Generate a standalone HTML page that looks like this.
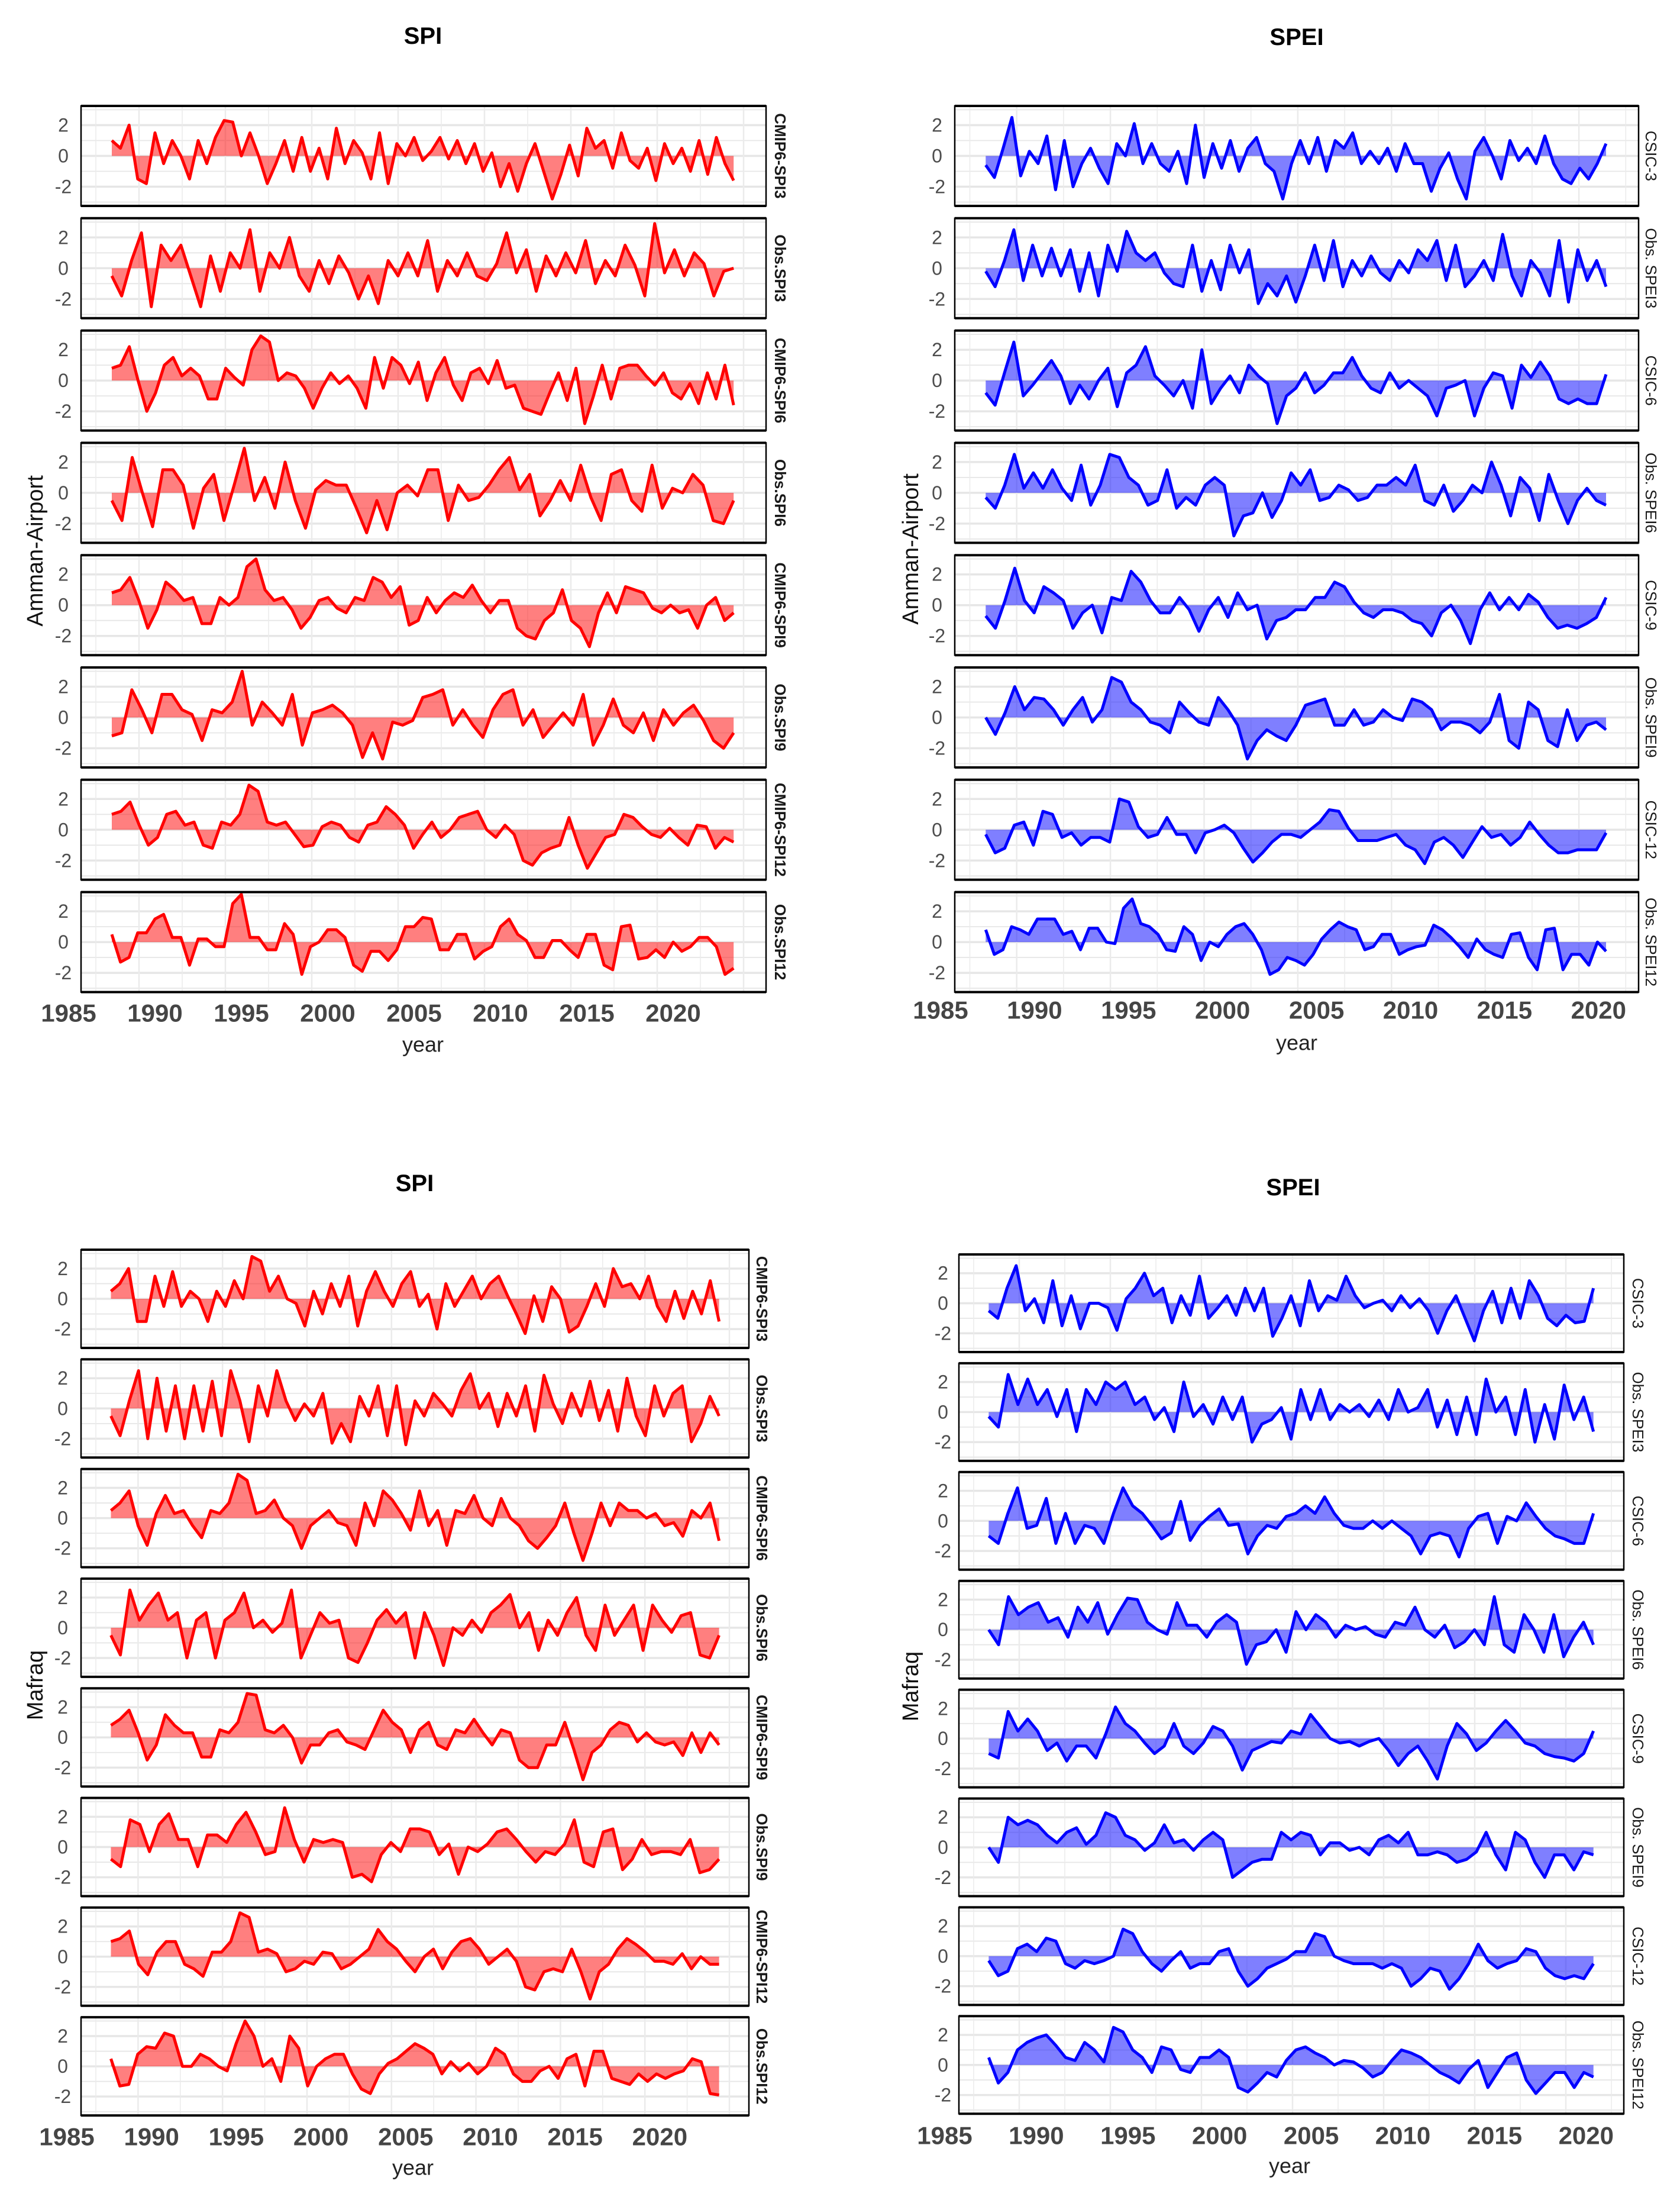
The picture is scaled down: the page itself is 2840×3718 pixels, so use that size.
<!DOCTYPE html>
<html><head><meta charset="utf-8">
<style>
html,body{margin:0;padding:0;background:#fff;}
svg{display:block;}
text{font-family:"Liberation Sans",Arial,sans-serif;}
</style></head>
<body>
<svg id="fig" width="2840" height="3718" viewBox="0 0 2840 3718" xmlns="http://www.w3.org/2000/svg">
<rect x="0" y="0" width="2840" height="3718" fill="#fff"/>
</svg>
<script>
// ===== Data: Amman-Airport SPI (1987.5 - 2023.5) =====
const ammanCmipSpi3 = [1,0.5,2,-1.5,-1.8,1.5,-0.5,1,0,-1.5,1,-0.5,1.2,2.3,2.2,0,1.5,0,-1.8,-0.5,1,-1,1.2,-1,0.5,-1.5,1.8,-0.5,1,0.2,-1.5,1.5,-1.8,0.8,0,1.2,-0.3,0.3,1.2,-0.2,1,-0.5,0.8,-1,0.2,-2,-0.5,-2.3,-0.5,0.8,-1,-2.8,-1.2,0.7,-1.3,1.8,0.5,1,-0.8,1.5,-0.3,-0.8,0.5,-1.6,0.8,-0.5,0.5,-1,1,-1.2,1.2,-0.5,-1.6];
const ammanObsSpi3 = [-0.5,-1.8,0.5,2.3,-2.5,1.5,0.5,1.5,-0.5,-2.5,0.8,-1.5,1.0,0,2.5,-1.5,1,0,2,-0.5,-1.5,0.5,-1,0.8,-0.3,-2.0,-0.5,-2.3,0.5,-0.5,1.0,-0.5,1.8,-1.5,0.5,-0.5,1,-0.5,-0.8,0.3,2.3,-0.3,1.2,-1.5,0.8,-0.5,1.0,-0.3,1.8,-1.0,0.5,-0.5,1.5,0.2,-1.8,2.9,-0.3,1.2,-0.5,1.0,0.3,-1.8,-0.2,0];
const ammanCmipSpi6 = [0.8,1.0,2.2,0,-2,-0.8,1,1.5,0.3,0.8,0.3,-1.2,-1.2,0.8,0.2,-0.3,2,2.9,2.5,0,0.5,0.3,-0.5,-1.8,-0.5,0.5,-0.2,0.3,-0.5,-1.8,1.5,-0.5,1.5,1.0,-0.2,1.2,-1.3,0.5,1.5,-0.3,-1.3,0.5,0.8,-0.2,1.3,-0.5,-0.3,-1.8,-2.0,-2.2,-0.8,0.5,-1.3,0.8,-2.8,-1.0,1,-1.2,0.8,1.0,1.0,0.3,-0.3,0.5,-0.8,-1.2,-0.2,-1.5,0.5,-1.2,1.0,-1.6];
const ammanObsSpi6 = [-0.5,-1.8,2.3,0,-2.2,1.5,1.5,0.5,-2.3,0.3,1.2,-1.8,0.5,2.9,-0.5,1.0,-1.0,2.0,-0.5,-2.3,0.2,0.8,0.5,0.5,-1.0,-2.6,-0.5,-2.4,0,0.5,-0.2,1.5,1.5,-1.8,0.5,-0.5,-0.3,0.5,1.5,2.3,0.2,1.2,-1.5,-0.5,0.8,-0.5,1.8,-0.3,-1.8,1.2,1.5,-0.5,-1.2,1.8,-1.0,0.3,0,1.2,0.5,-1.8,-2.0,-0.5];
const ammanCmipSpi9 = [0.8,1.0,1.8,0.3,-1.5,-0.3,1.5,1.0,0.3,0.5,-1.2,-1.2,0.5,0,0.5,2.5,3.0,1.0,0.3,0.5,-0.3,-1.5,-0.8,0.3,0.5,-0.2,-0.5,0.5,0.3,1.8,1.5,0.5,1.2,-1.3,-1.0,0.5,-0.5,0.3,0.8,0.5,1.3,0.3,-0.5,0.3,0.3,-1.5,-2.0,-2.2,-1.0,-0.5,1.0,-1.0,-1.5,-2.7,-0.5,0.8,-0.5,1.2,1.0,0.8,-0.2,-0.5,0,-0.5,-0.3,-1.5,0,0.5,-1.0,-0.5];
const ammanObsSpi9 = [-1.2,-1.0,1.8,0.5,-1.0,1.5,1.5,0.5,0.2,-1.5,0.5,0.3,1.0,3.0,-0.5,1.0,0.3,-0.5,1.5,-1.8,0.3,0.5,0.8,0.3,-0.5,-2.6,-1.0,-2.7,-0.3,-0.5,-0.2,1.3,1.5,1.8,-0.5,0.5,-0.5,-1.3,0.5,1.5,1.8,-0.5,0.5,-1.3,-0.5,0.3,-0.5,1.5,-1.8,-0.5,1.2,-0.5,-1.0,0.3,-1.5,0.5,-0.5,0.3,0.8,-0.2,-1.5,-2.0,-1.0];
const ammanCmipSpi12 = [1.0,1.2,1.8,0.3,-1.0,-0.5,1.0,1.2,0.3,0.5,-1.0,-1.2,0.5,0.3,1.0,2.9,2.5,0.5,0.3,0.5,-0.3,-1.1,-1.0,0.2,0.5,0.3,-0.5,-0.8,0.3,0.5,1.5,1.0,0.3,-1.2,-0.3,0.5,-0.5,0,0.8,1.0,1.2,0,-0.5,0.3,-0.3,-2.0,-2.3,-1.5,-1.2,-1.0,0.8,-1.0,-2.5,-1.5,-0.5,-0.3,1.0,0.8,0.2,-0.3,-0.5,0.1,-0.5,-1.0,0.3,0.2,-1.2,-0.5,-0.8];
const ammanObsSpi12 = [0.5,-1.3,-1.0,0.6,0.6,1.5,1.8,0.3,0.3,-1.5,0.2,0.2,-0.3,-0.3,2.5,3.1,0.3,0.3,-0.5,-0.5,1.2,0.5,-2.1,-0.3,0,0.8,0.8,0.3,-1.5,-1.9,-0.6,-0.6,-1.2,-0.5,1.0,1.0,1.6,1.5,-0.5,-0.5,0.5,0.5,-1.1,-0.6,-0.3,1.0,1.5,0.5,0.1,-1.0,-1.0,0.1,0.1,-0.5,-1.0,0.5,0.5,-1.5,-1.8,1.0,1.1,-1.1,-1.0,-0.5,-1.0,0,-0.6,-0.3,0.3,0.3,-0.3,-2.1,-1.7];

// ===== Data: Amman-Airport SPEI (1987.4 - 2020.4) =====
const ammanCsic3 = [-0.6,-1.4,0.5,2.5,-1.3,0.3,-0.5,1.3,-2.2,1.0,-2.0,-0.5,0.5,-0.8,-1.8,0.8,0,2.1,-0.5,0.8,-0.5,-1.0,0.3,-1.8,2.0,-1.4,0.8,-0.8,1.0,-1.0,0.5,1.2,-0.5,-1.0,-2.8,-0.5,1.0,-0.5,1.2,-1.0,1.0,0.5,1.5,-0.5,0.3,-0.5,0.5,-1.0,0.8,-0.5,-0.5,-2.3,-0.8,0.2,-1.5,-2.8,0.3,1.2,0,-1.5,1.0,-0.3,0.5,-0.5,1.3,-0.5,-1.5,-1.8,-0.8,-1.5,-0.5,0.8];
const ammanObsSpei3 = [-0.2,-1.2,0.5,2.5,-0.8,1.5,-0.5,1.3,-0.5,1.2,-1.5,1.0,-1.8,1.5,-0.2,2.4,1.0,0.5,1.0,-0.3,-1.0,-1.2,1.5,-1.5,0.5,-1.4,1.5,-0.3,1.2,-2.3,-1.0,-1.8,-0.5,-2.2,-0.5,1.5,-0.8,1.8,-1.2,0.5,-0.5,0.8,-0.3,-0.8,0.5,-0.3,1.2,0.5,1.8,-0.8,1.5,-1.2,-0.5,0.5,-0.8,2.2,-0.5,-1.8,0.5,-0.3,-1.8,1.8,-2.2,1.2,-0.8,0.5,-1.2];
const ammanCsic6 = [-0.8,-1.6,0.5,2.5,-1.0,-0.3,0.5,1.3,0.3,-1.5,-0.3,-1.2,0,0.8,-1.7,0.5,1.0,2.2,0.3,-0.3,-1.0,0,-1.8,2.0,-1.5,-0.5,0.3,-0.8,1.0,0.3,-0.2,-2.8,-1.0,-0.5,0.5,-0.8,-0.3,0.5,0.5,1.5,0.3,-0.5,-0.8,0.5,-0.5,0,-0.5,-1.0,-2.3,-0.5,-0.3,0,-2.3,-0.5,0.5,0.3,-1.8,1.0,0.2,1.2,0.3,-1.2,-1.5,-1.2,-1.5,-1.5,0.4];
const ammanObsSpei6 = [-0.3,-1.0,0.5,2.5,0.3,1.3,0.3,1.5,0.3,-0.5,1.8,-0.8,0.5,2.5,2.3,1.0,0.5,-0.8,-0.5,1.5,-1.0,-0.3,-0.8,0.5,1.0,0.5,-2.8,-1.5,-1.3,0,-1.6,-0.5,1.3,0.5,1.5,-0.5,-0.3,0.5,0.2,-0.5,-0.3,0.5,0.5,1.0,0.5,1.8,-0.5,-0.8,0.5,-1.2,-0.5,0.5,0,2.0,0.5,-1.5,1.0,0.3,-1.8,1.2,-0.5,-2.0,-0.5,0.3,-0.5,-0.8];
const ammanCsic9 = [-0.7,-1.5,0.3,2.4,0.3,-0.5,1.2,0.8,0.3,-1.5,-0.5,0,-1.8,0.5,0.3,2.2,1.5,0.3,-0.5,-0.5,0.5,-0.3,-1.7,-0.3,0.5,-0.8,0.8,-0.3,0,-2.2,-1.0,-0.8,-0.3,-0.3,0.5,0.5,1.5,1.2,0.2,-0.5,-0.8,-0.3,-0.3,-0.5,-1.0,-1.2,-2.0,-0.5,0,-1.0,-2.5,-0.3,0.8,-0.3,0.5,-0.3,0.7,0.2,-0.8,-1.5,-1.3,-1.5,-1.2,-0.8,0.5];
const ammanObsSpei9 = [0,-1.1,0.3,2.0,0.5,1.3,1.2,0.5,-0.5,0.5,1.3,-0.3,0.5,2.6,2.3,1.0,0.5,-0.3,-0.5,-1.0,1.0,0.3,-0.3,-0.5,1.3,0.5,-0.5,-2.7,-1.5,-0.8,-1.2,-1.5,-0.5,0.8,1.0,1.2,-0.5,-0.5,0.5,-0.5,-0.3,0.5,0,-0.2,1.2,1.0,0.5,-0.8,-0.3,-0.3,-0.5,-1.0,-0.3,1.5,-1.5,-2.0,1.0,0.5,-1.5,-1.9,0.5,-1.5,-0.5,-0.3,-0.8];
const ammanCsic12 = [-0.3,-1.5,-1.2,0.3,0.5,-1.0,1.2,1.0,-0.5,-0.2,-1.0,-0.5,-0.5,-0.8,2.0,1.8,0.2,-0.5,-0.3,0.8,-0.3,-0.3,-1.5,-0.2,0,0.3,-0.2,-1.2,-2.1,-1.5,-0.8,-0.3,-0.3,-0.5,0,0.5,1.3,1.2,0.1,-0.7,-0.7,-0.7,-0.5,-0.3,-1.0,-1.3,-2.2,-0.8,-0.5,-1.0,-1.8,-0.8,0.2,-0.5,-0.3,-1.0,-0.5,0.5,-0.3,-1.0,-1.5,-1.5,-1.3,-1.3,-1.3,-0.2];
const ammanObsSpei12 = [0.8,-0.8,-0.5,1.0,0.8,0.5,1.5,1.5,1.5,0.5,0.7,-0.5,0.9,0.9,0,-0.1,2.2,2.8,1.2,1.0,0.5,-0.5,-0.6,1.0,0.5,-1.2,0,-0.3,0.5,1.0,1.2,0.5,-0.5,-2.1,-1.8,-1.0,-1.2,-1.5,-0.8,0.2,0.8,1.3,1.0,0.8,-0.5,-0.3,0.5,0.5,-0.8,-0.5,-0.3,-0.2,1.1,0.8,0.3,-0.3,-1.0,0.2,-0.5,-0.8,-1.0,0.5,0.6,-1.0,-1.8,0.8,0.9,-1.8,-0.8,-0.8,-1.5,0,-0.6];

// ===== Data: Mafraq SPI (1987.6 - 2023.5) =====
const mafraqCmipSpi3 = [0.5,1.0,2.0,-1.5,-1.5,1.5,-0.5,1.8,-0.5,0.5,0,-1.5,0.5,-0.5,1.2,0,2.8,2.5,0.5,1.5,0,-0.3,-1.8,0.5,-1.0,1.0,-0.5,1.5,-1.8,0.5,1.8,0.5,-0.5,1.0,1.8,-0.5,0.3,-2.0,1.0,-0.5,0.5,1.5,0,1.0,1.5,0.2,-1.0,-2.3,0.2,-1.5,0.8,0,-2.2,-1.8,-0.5,1.0,-0.5,2.0,0.8,1.0,0,1.5,-0.5,-1.5,0.5,-1.3,0.5,-1.0,1.2,-1.5];
const mafraqObsSpi3 = [-0.5,-1.8,0.5,2.5,-2.0,2.0,-1.5,1.5,-2.0,1.5,-1.5,1.8,-1.8,2.5,0.5,-2.2,1.5,-0.5,2.5,0.5,-0.8,0.3,-0.5,1.0,-2.3,-1.0,-2.2,0.8,-0.5,1.5,-1.8,1.5,-2.4,0.5,-0.5,1.0,0.3,-0.5,1.2,2.3,0,1.0,-1.2,1.0,-0.5,1.5,-1.5,2.2,0.3,-1.0,1.0,-0.5,1.8,-0.8,1.2,-1.5,2.0,-0.5,-1.8,1.5,-0.5,1.0,1.5,-2.2,-1.0,0.8,-0.5];
const mafraqCmipSpi6 = [0.5,1.0,1.8,-0.5,-1.8,0.3,1.5,0.3,0.5,-0.5,-1.3,0.5,0.3,1.0,2.9,2.5,0.3,0.5,1.2,0,-0.5,-2.0,-0.5,0,0.5,-0.3,-0.5,-1.8,1.0,-0.5,1.8,1.2,0.3,-0.8,1.8,-0.5,0.5,-1.8,0.5,0.3,1.5,0,-0.5,1.3,0,-0.5,-1.5,-2.0,-1.3,-0.5,1.0,-1.0,-2.8,-1.0,1.0,-0.5,1.0,0.5,0.5,0,0.3,-0.5,-0.3,-1.2,0.5,0,1.0,-1.5];
const mafraqObsSpi6 = [-0.5,-1.8,2.5,0.5,1.5,2.3,0.5,1.0,-2.0,0.5,1.0,-2.0,0.5,1.0,2.3,0,0.5,-0.3,0.3,2.5,-2.0,-0.5,1.0,0.3,0.5,-2.0,-2.3,-1.0,0.5,1.2,0.3,1.0,-2.0,1.0,-0.5,-2.5,0,-0.5,0.5,-0.3,1.0,1.5,2.2,0,1.0,-1.5,0.5,-0.5,1.0,2.0,-0.5,-1.5,1.5,-0.5,0.5,1.5,-1.5,1.5,0.5,-0.3,0.8,1.0,-1.8,-2.0,-0.5];
const mafraqCmipSpi9 = [0.8,1.2,1.8,0.3,-1.5,-0.5,1.5,0.8,0.3,0.3,-1.3,-1.3,0.5,0.3,1.0,2.9,2.8,0.5,0.3,0.8,0,-1.7,-0.5,-0.5,0.3,0.5,-0.3,-0.5,-0.8,0.5,1.8,1.0,0.5,-1.0,0.5,1.0,-0.5,-0.8,0.5,0.3,1.2,0.3,-0.5,0.5,0.3,-1.5,-2.0,-2.0,-0.5,-0.5,1.0,-0.8,-2.8,-1.0,-0.5,0.5,1.0,0.8,-0.3,0.3,-0.3,-0.5,-0.3,-1.2,0.3,-1.0,0.3,-0.5];
const mafraqObsSpi9 = [-0.8,-1.3,1.8,1.5,-0.3,1.5,2.2,0.5,0.5,-1.3,0.8,0.8,0.3,1.5,2.3,1.0,-0.5,-0.3,2.6,0.5,-1.0,0.5,0.3,0.5,0.3,-2.0,-1.8,-2.3,-0.5,0.3,-0.3,1.2,1.2,1.0,-0.5,0.2,-1.8,0,-0.3,0.2,1.0,1.2,0.5,-0.3,-1.0,-0.3,-0.5,0.2,1.8,-1.0,-1.3,1.0,1.2,-1.5,-0.8,0.5,-0.5,-0.3,-0.3,-0.5,0.5,-1.7,-1.5,-0.8];
const mafraqCmipSpi12 = [1.0,1.2,1.7,-0.5,-1.2,0.3,1.0,1.0,-0.5,-0.8,-1.3,0.3,0.3,1.0,2.9,2.6,0.3,0.5,0.2,-1.0,-0.8,-0.3,-0.5,0.3,0.2,-0.8,-0.5,0,0.5,1.8,1.0,0.5,-0.3,-1.0,0,0.5,-0.8,0.3,1.0,1.2,0.5,-0.5,0,0.5,-0.3,-2.0,-2.2,-1.0,-0.8,-1.0,0.5,-1.0,-2.8,-1.0,-0.5,0.5,1.2,0.8,0.3,-0.3,-0.3,-0.5,0.2,-0.8,0,-0.5,-0.5];
const mafraqObsSpi12 = [0.5,-1.3,-1.2,0.8,1.3,1.2,2.2,2.0,0,0,0.8,0.5,0,-0.3,1.5,3.0,2.0,0,0.5,-1.0,2.0,1.2,-1.3,0,0.5,0.8,0.8,-0.5,-1.5,-1.8,-0.5,0.2,0.5,1.0,1.5,1.2,0.8,-0.5,0.3,-0.3,0.2,-0.5,0,1.2,0.8,-0.5,-1.0,-1.0,-0.3,0,-0.8,0.5,0.8,-1.3,1.0,1.0,-0.8,-1.0,-1.2,-0.5,-1.0,-0.5,-0.8,-0.5,-0.3,0.5,0.3,-1.8,-1.9];

// ===== Data: Mafraq SPEI (1987.4 - 2020.4) =====
const mafraqCsic3 = [-0.5,-1.0,1.0,2.5,-0.5,0.3,-1.3,1.5,-1.5,0.5,-1.7,0,0,-0.3,-1.8,0.3,1.0,2.0,0.5,1.0,-1.3,0.5,-0.8,1.8,-1.0,-0.3,0.5,-0.8,1.0,-0.5,1.0,-2.2,-1.0,0.5,-1.5,1.5,-0.5,0.5,0.2,1.8,0.5,-0.3,0,0.2,-0.5,0.5,-0.3,0.3,-0.5,-2.0,-0.5,0.5,-1.0,-2.5,-0.5,0.8,-1.3,1.0,-1.0,1.5,0.5,-1.0,-1.5,-0.8,-1.3,-1.2,1.0];
const mafraqObsSpei3 = [-0.3,-1.0,2.5,0.5,2.2,0.5,1.5,-0.3,1.5,-1.3,1.5,0.5,2.0,1.5,2.0,0.5,1.0,-0.5,0.3,-1.3,2.0,-0.3,0.5,-0.8,1.0,-0.5,1.0,-2.0,-0.8,-0.5,0.3,-1.8,1.5,-0.5,1.5,-0.5,0.5,0,0.5,-0.3,0.8,-0.5,1.5,0,0.3,1.5,-1.0,0.8,-1.5,1.0,-1.5,2.2,0,1.0,-1.5,1.5,-2.0,0.5,-1.8,1.8,-0.5,1.0,-1.3];
const mafraqCsic6 = [-1.0,-1.5,0.5,2.2,-0.5,-0.3,1.5,-1.5,0.5,-1.5,-0.3,-0.5,-1.5,0.5,2.2,1.0,0.5,-0.3,-1.2,-0.8,1.3,-1.3,-0.3,0.3,0.8,-0.3,-0.2,-2.2,-1.0,-0.3,-0.5,0.3,0.5,1.0,0.5,1.6,0.5,-0.3,-0.5,-0.5,0,-0.5,0,-0.5,-1.0,-2.2,-1.0,-0.8,-1.0,-2.4,-0.5,0.3,0.5,-1.5,0.3,0,1.2,0.3,-0.5,-1.0,-1.2,-1.5,-1.5,0.5];
const mafraqObsSpei6 = [0,-1.0,2.2,1.0,1.5,1.8,0.5,0.8,-0.5,1.5,0.5,1.8,-0.3,1.0,2.1,2.0,0.5,0,-0.3,1.8,0.3,0.3,-0.5,0.5,1.0,0.5,-2.3,-1.0,-0.8,0,-1.5,1.2,0,1.0,0.5,-0.5,0.3,0,0.2,-0.3,-0.5,0.5,0.3,1.5,0,-0.5,0.3,-1.2,-0.8,0,-1.0,2.2,-1.0,-1.5,1.0,0,-1.5,1.0,-1.8,-0.5,0.5,-1.0];
const mafraqCsic9 = [-1.0,-1.3,1.8,0.5,1.3,0.5,-0.8,-0.3,-1.5,-0.5,-0.5,-1.3,0.3,2.1,1.0,0.5,-0.3,-1.0,-0.5,1.0,-0.5,-1.0,-0.3,0.8,0.5,-0.5,-2.1,-0.8,-0.5,-0.2,-0.3,0.5,0.3,1.6,0.8,0,-0.3,-0.2,-0.5,-0.2,0,-0.8,-1.8,-1.0,-0.5,-1.5,-2.7,-0.5,1.0,0.3,-0.8,-0.3,0.5,1.2,0.5,-0.3,-0.5,-1.0,-1.2,-1.3,-1.5,-1.0,0.5];
const mafraqObsSpei9 = [0,-1.0,2.0,1.5,1.8,1.5,0.8,0.3,1.0,1.3,0.2,0.8,2.3,2.0,0.8,0.5,-0.2,0.3,1.5,0.3,0.5,-0.2,0.5,1.0,0.5,-2.0,-1.5,-1.0,-0.8,-0.8,1.0,0.5,1.0,0.8,-0.5,0.3,0.3,-0.2,0,-0.5,0.5,0.8,0.3,1.0,-0.5,-0.5,-0.3,-0.5,-1.0,-0.8,-0.3,1.0,-0.5,-1.5,1.0,0.5,-1.0,-2.0,-0.5,-0.5,-1.5,-0.3,-0.5];
const mafraqCsic12 = [-0.3,-1.3,-1.0,0.5,0.8,0.3,1.2,1.0,-0.5,-0.8,-0.3,-0.5,-0.3,0,1.8,1.5,0.3,-0.5,-1.0,-0.3,0.3,-0.8,-0.5,-0.5,0.3,0.5,-1.0,-2.0,-1.5,-0.8,-0.5,-0.2,0.3,0.3,1.5,1.3,0,-0.3,-0.5,-0.5,-0.5,-0.8,-0.5,-0.8,-2.0,-1.5,-0.8,-1.0,-2.2,-1.5,-0.5,0.8,-0.3,-0.8,-0.5,-0.3,0.5,0.3,-0.8,-1.3,-1.5,-1.3,-1.5,-0.5];
const mafraqObsSpei12 = [0.5,-1.2,-0.5,1.0,1.5,1.8,2.0,1.3,0.5,0.3,1.5,1.0,0.2,2.5,2.2,1.0,0.5,-0.5,1.2,1.0,-0.3,-0.5,0.5,0.5,1.0,0.5,-1.5,-1.8,-1.2,-0.5,-0.8,0.3,1.0,1.2,0.8,0.5,0,0.3,0.2,-0.2,-0.8,-0.5,0.3,1.0,0.8,0.5,0,-0.5,-0.8,-1.2,-0.3,0.3,-1.5,-0.5,0.5,0.8,-1.0,-1.9,-1.2,-0.5,-0.5,-1.5,-0.5,-0.8];

// Tick labels
const yearTicks = [1985,1990,1995,2000,2005,2010,2015,2020];
const yTicks = [2,0,-2];

const spiNamesL = ["CMIP6-SPI3","Obs.SPI3","CMIP6-SPI6","Obs.SPI6","CMIP6-SPI9","Obs.SPI9","CMIP6-SPI12","Obs.SPI12"];
const speiNamesR = ["CSIC-3","Obs. SPEI3","CSIC-6","Obs. SPEI6","CSIC-9","Obs. SPEI9","CSIC-12","Obs. SPEI12"];

const NS = "http://www.w3.org/2000/svg";
const svg = document.getElementById('fig');
function mk(tag, attrs, parent){ const e=document.createElementNS(NS,tag); for(const k in attrs) e.setAttribute(k,attrs[k]); (parent||svg).appendChild(e); return e; }

const panels = [
 {key:"amman-spi", title:"SPI", ytitle:"Amman-Airport", color:"#ff0000", fill:"#ff0000", names:spiNamesL, boldStrip:true,
  series:[ammanCmipSpi3,ammanObsSpi3,ammanCmipSpi6,ammanObsSpi6,ammanCmipSpi9,ammanObsSpi9,ammanCmipSpi12,ammanObsSpi12],
  t0:1987.5,t1:2023.5, x0:137,x1:1295, top0:179, pitch:189.8, h:169, yr0:116, pxYr:29.2, gridStart:162, gridStep:73, gridN:16,
  labY:1712, yearX:715, yearY:1765, titleX:715, titleY:61, ytX:60, ytY:931, tickX:107, stripX:1319},
 {key:"amman-spei", title:"SPEI", ytitle:"Amman-Airport", color:"#0000ff", fill:"#0000ff", names:speiNamesR, boldStrip:false,
  series:[ammanCsic3,ammanObsSpei3,ammanCsic6,ammanObsSpei6,ammanCsic9,ammanObsSpei9,ammanCsic12,ammanObsSpei12],
  t0:1987.4,t1:2020.4, x0:1614,x1:2770, top0:179, pitch:189.8, h:169, yr0:1590, pxYr:31.78, gridStart:1639.5, gridStep:79.2, gridN:15,
  labY:1707, yearX:2192, yearY:1762, titleX:2192, titleY:63, ytX:1540, ytY:928, tickX:1584, stripX:2791},
 {key:"mafraq-spi", title:"SPI", ytitle:"Mafraq", color:"#ff0000", fill:"#ff0000", names:spiNamesL, boldStrip:true,
  series:[mafraqCmipSpi3,mafraqObsSpi3,mafraqCmipSpi6,mafraqObsSpi6,mafraqCmipSpi9,mafraqObsSpi9,mafraqCmipSpi12,mafraqObsSpi12],
  t0:1987.6,t1:2023.5, x0:137,x1:1266, top0:2112, pitch:185.3, h:166, yr0:113, pxYr:28.64, gridStart:162, gridStep:71.4, gridN:16,
  labY:3611, yearX:698, yearY:3663, titleX:701, titleY:2000, ytX:60, ytY:2848, tickX:106, stripX:1288},
 {key:"mafraq-spei", title:"SPEI", ytitle:"Mafraq", color:"#0000ff", fill:"#0000ff", names:speiNamesR, boldStrip:false,
  series:[mafraqCsic3,mafraqObsSpei3,mafraqCsic6,mafraqObsSpei6,mafraqCsic9,mafraqObsSpei9,mafraqCsic12,mafraqObsSpei12],
  t0:1987.4,t1:2020.4, x0:1621,x1:2745, top0:2120, pitch:183.9, h:165, yr0:1597, pxYr:30.98, gridStart:1646, gridStep:77, gridN:15,
  labY:3609, yearX:2180, yearY:3660, titleX:2186, titleY:2007, ytX:1540, ytY:2850, tickX:1594, stripX:2769}
];

panels.forEach(p=>{
  const g = mk('g',{});
  
  
  const xs = yr => p.yr0 + (yr-1985)*p.pxYr;
  const t = mk('text',{x:p.titleX,y:p.titleY,'text-anchor':'middle','dominant-baseline':'central','font-size':40,'font-weight':'bold',fill:'#000'},g);
  t.textContent = p.title;
  
  
  const yt = mk('text',{x:p.ytX,y:p.ytY,'text-anchor':'middle','dominant-baseline':'central','font-size':38,fill:'#111',transform:`rotate(-90 ${p.ytX} ${p.ytY})`},g);
  yt.textContent = p.ytitle;
  
  

  p.series.forEach((vals,i)=>{
    const top = p.top0 + i*p.pitch;
    const unit = p.h/6.5;
    const zero = top + p.h/2;
    const ys = v => zero - v*unit;
    const sg = mk('g',{},g);
    
    
    mk('rect',{x:p.x0,y:top,width:p.x1-p.x0,height:p.h,fill:'#fff'},sg);
    for(let v=-3; v<=3; v++){
      mk('line',{x1:p.x0,x2:p.x1,y1:ys(v),y2:ys(v),stroke:'#e6e6e6','stroke-width':(v%2===0)?3.5:1.8},sg);
    }
    for(let k=0;k<p.gridN;k++){
      const gx = p.gridStart + k*p.gridStep;
      mk('line',{x1:gx,x2:gx,y1:top,y2:top+p.h,stroke:'#ebebeb','stroke-width':(k%2===1)?2.5:1.5},sg);
    }
    const n = vals.length;
    let pts = vals.map((v,j)=>{ const yr = p.t0 + j*(p.t1-p.t0)/(n-1); return [xs(yr), ys(v)]; });
    let d = 'M'+pts[0][0].toFixed(1)+','+zero.toFixed(1);
    pts.forEach(q=>{ d += ' L'+q[0].toFixed(1)+','+q[1].toFixed(1); });
    d += ' L'+pts[n-1][0].toFixed(1)+','+zero.toFixed(1)+' Z';
    const area = mk('path',{d:d,fill:p.fill,'fill-opacity':0.5,stroke:'none'},sg);
    
    
    const ld = 'M'+pts.map(q=>q[0].toFixed(1)+','+q[1].toFixed(1)).join(' L');
    const line = mk('path',{d:ld,fill:'none',stroke:p.color,'stroke-width':5,'stroke-linejoin':'round'},sg);
    
    
    mk('rect',{x:p.x0,y:top,width:p.x1-p.x0,height:p.h,fill:'none',stroke:'#000','stroke-width':2.5},sg);
    mk('line',{x1:p.x0,x2:p.x1,y1:top,y2:top,stroke:'#000','stroke-width':4},sg);
    mk('line',{x1:p.x0,x2:p.x1,y1:top+p.h,y2:top+p.h,stroke:'#000','stroke-width':4},sg);
    yTicks.forEach(v=>{
      const tl = mk('text',{x:p.tickX,y:ys(v),'text-anchor':'middle','dominant-baseline':'central','font-size':32,fill:'#4d4d4d'},sg);
      tl.textContent = String(v);
      
      
    });
    const cy = top + p.h/2;
    const sl = mk('text',{x:p.stripX,y:cy,'text-anchor':'middle','dominant-baseline':'central','font-size':26,'font-weight':p.boldStrip?'bold':'normal',fill:'#1a1a1a',transform:`rotate(90 ${p.stripX} ${cy})`},sg);
    sl.textContent = p.names[i];
    
    
  });

  yearTicks.forEach(yv=>{
    const tx = mk('text',{x:xs(yv),y:p.labY,'text-anchor':'middle','dominant-baseline':'central','font-size':42,'font-weight':'bold',fill:'#454545'},g);
    tx.textContent = String(yv);
    
    
  });
  const xl = mk('text',{x:p.yearX,y:p.yearY,'text-anchor':'middle','dominant-baseline':'central','font-size':36,fill:'#222'},g);
  xl.textContent = 'year';
  
  
});
</script>
</body></html>
